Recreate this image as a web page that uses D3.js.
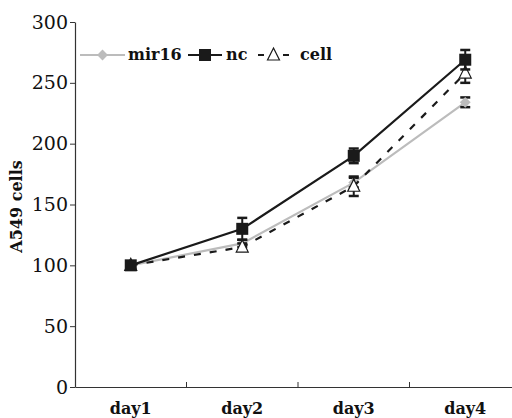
<!DOCTYPE html>
<html>
<head>
<meta charset="utf-8">
<script src="https://cdn.jsdelivr.net/npm/d3@7"></script>
<style>
  body { margin: 0; background: #fff; }
  svg text { font-family: "DejaVu Serif", "Liberation Serif", serif !important; }
</style>
</head>
<body>
<svg id="chart" width="512" height="418"></svg>
<script>
const days = ["day1", "day2", "day3", "day4"];
const yTicks = [0, 50, 100, 150, 200, 250, 300];

const mir16 = [100, 118, 168, 234];
const mir16Err = [2, 3, 4, 4];
const nc = [100, 130, 190, 269];
const ncErr = [2, 9, 6, 8];
const cell = [100, 115, 165, 258];
const cellErr = [2, 3, 8, 8];

const series = [
  { name: "mir16", values: mir16, err: mir16Err, color: "#bcbcbc", dash: null, marker: "diamond" },
  { name: "cell", values: cell, err: cellErr, color: "#1a1a1a", dash: "7,9", marker: "triangle" },
  { name: "nc", values: nc, err: ncErr, color: "#1a1a1a", dash: null, marker: "square" }
];

const svg = d3.select("#chart");
const mLeft = 75, mTop = 22, mBottom = 387;

const x = d3.scaleBand().domain(days).range([mLeft, mLeft + 446]);
const y = d3.scaleLinear().domain([0, 300]).range([mBottom, mTop]);

// axes
const yAxis = svg.append("g")
  .attr("transform", `translate(${mLeft},0)`)
  .call(d3.axisLeft(y).tickValues(yTicks).tickSize(5).tickSizeOuter(0));
yAxis.select(".domain").attr("stroke", "#333").attr("stroke-width", 1.2);
yAxis.selectAll(".tick line").attr("stroke", "#333");
yAxis.selectAll("text").attr("font-size", 19).attr("fill", "#111").attr("x", -7);

const xAxis = svg.append("g")
  .attr("transform", `translate(0,${mBottom})`)
  .call(d3.axisBottom(x).tickSize(0).tickSizeOuter(0));
xAxis.select(".domain").attr("stroke", "#333").attr("stroke-width", 1.2);
xAxis.selectAll("text").attr("font-size", 16).attr("font-weight", "bold").attr("fill", "#111").attr("dy", "1.5em");
// band boundary ticks
svg.append("g").selectAll("line")
  .data(days.slice(1))
  .join("line")
  .attr("x1", d => x(d)).attr("x2", d => x(d))
  .attr("y1", mBottom).attr("y2", mBottom - 5)
  .attr("stroke", "#333");

svg.append("text")
  .attr("transform", `translate(22,${(mTop + mBottom) / 2 + 2}) rotate(-90)`)
  .attr("text-anchor", "middle")
  .attr("font-size", 16)
  .attr("font-weight", "bold")
  .attr("fill", "#111")
  .text("A549 cells");

const cx = d => x(d) + x.bandwidth() / 2;

function drawMarker(g, type, color) {
  if (type === "diamond") {
    g.append("path").attr("d", d3.symbol(d3.symbolDiamond2, 75)()).attr("fill", color);
  } else if (type === "square") {
    g.append("rect").attr("x", -6).attr("y", -6).attr("width", 12).attr("height", 12).attr("fill", color);
  } else {
    g.append("path").attr("d", "M0,-7L6,5L-6,5Z").attr("fill", "#fff").attr("stroke", color).attr("stroke-width", 1.2);
  }
}

const line = d3.line().x((d, i) => cx(days[i])).y(d => y(d));

series.forEach(s => {
  svg.append("path")
    .datum(s.values)
    .attr("d", line)
    .attr("fill", "none")
    .attr("stroke", s.color)
    .attr("stroke-width", 2.2)
    .attr("stroke-dasharray", s.dash);

  // error bars
  const eb = svg.append("g");
  s.values.forEach((v, i) => {
    const xx = cx(days[i]);
    const ebColor = "#1a1a1a";
    eb.append("line").attr("x1", xx).attr("x2", xx).attr("y1", y(v + s.err[i])).attr("y2", y(v - s.err[i])).attr("stroke", ebColor).attr("stroke-width", 2);
    [v + s.err[i], v - s.err[i]].forEach(e => {
      eb.append("line").attr("x1", xx - 5).attr("x2", xx + 5).attr("y1", y(e)).attr("y2", y(e)).attr("stroke", ebColor).attr("stroke-width", 2.5);
    });
  });

  s.values.forEach((v, i) => {
    const g = svg.append("g").attr("transform", `translate(${cx(days[i])},${y(v)})`);
    drawMarker(g, s.marker, s.color);
  });
});

// legend
const legendItems = [
  { name: "mir16", color: "#bcbcbc", dash: null, marker: "diamond", x1: 80, x2: 125, tx: 128 },
  { name: "nc", color: "#1a1a1a", dash: null, marker: "square", x1: 188, x2: 222, tx: 226 },
  { name: "cell", color: "#1a1a1a", dash: "6,6.5", marker: "triangle", x1: 258, x2: 289, tx: 300 }
];
const ly = 55;
legendItems.forEach(l => {
  svg.append("line").attr("x1", l.x1).attr("x2", l.x2).attr("y1", ly).attr("y2", ly)
    .attr("stroke", l.color).attr("stroke-width", 2.2).attr("stroke-dasharray", l.dash);
  const g = svg.append("g").attr("transform", `translate(${(l.x1 + l.x2) / 2},${ly})`);
  drawMarker(g, l.marker, l.color);
  svg.append("text").attr("x", l.tx).attr("y", ly + 5).attr("font-size", 16).attr("font-weight", "bold")
    .attr("fill", "#111").text(l.name);
});
</script>
</body>
</html>
